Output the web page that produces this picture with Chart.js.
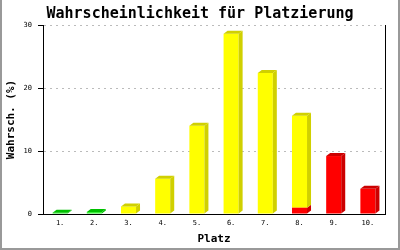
<!DOCTYPE html>
<html>
<head>
<meta charset="utf-8">
<script src="https://cdn.jsdelivr.net/npm/chart.js@4"></script>
<style>
  html, body { margin: 0; padding: 0; background: #fff; }
  #wrap { position: relative; width: 400px; height: 250px; }
  #frame { position: absolute; inset: 0; border: 2px solid #999; border-top: none; box-sizing: border-box; pointer-events: none; }
</style>
</head>
<body>
<div id="wrap">
  <canvas id="c" width="400" height="250"></canvas>
  <div id="frame"></div>
</div>
<script>
const categories   = ['1.', '2.', '3.', '4.', '5.', '6.', '7.', '8.', '9.', '10.'];
const greenValues  = [0.2, 0.3, 0, 0, 0, 0, 0, 0, 0, 0];
const redValues    = [0, 0, 0, 0, 0, 0, 0, 1.0, 9.2, 4.0];
const yellowValues = [0, 0, 1.2, 5.6, 14.0, 28.6, 22.4, 14.6, 0, 0];
const yTicks = [0, 10, 20, 30];

const MONO = "'DejaVu Sans Mono', monospace";
const DX = 4, DY = 3;

// fake 3D: right side + top face in a darker shade
const bar3d = {
  id: 'bar3d',
  afterDatasetsDraw(chart) {
    const ctx = chart.ctx;
    const sets = chart.data.datasets;
    ctx.save();
    sets.forEach((ds, di) => {
      const meta = chart.getDatasetMeta(di);
      meta.data.forEach((bar, i) => {
        const v = ds.data[i];
        if (!v) return;
        const { x, y, base, width } = bar.getProps(['x', 'y', 'base', 'width'], true);
        const l = x - width / 2, r = x + width / 2;
        const top = Math.min(y, base), bot = Math.max(y, base);
        ctx.fillStyle = ds.sideColor;
        ctx.beginPath();
        ctx.moveTo(r, top); ctx.lineTo(r + DX, top - DY);
        ctx.lineTo(r + DX, bot - DY); ctx.lineTo(r, bot);
        ctx.closePath(); ctx.fill();
        const covered = sets.some((o, oi) => oi > di && o.stack === ds.stack && o.data[i] > 0);
        if (!covered) {
          ctx.beginPath();
          ctx.moveTo(l, top); ctx.lineTo(l + DX, top - DY);
          ctx.lineTo(r + DX, top - DY); ctx.lineTo(r, top);
          ctx.closePath(); ctx.fill();
        }
      });
    });
    ctx.restore();
  }
};

new Chart(document.getElementById('c'), {
  type: 'bar',
  data: {
    labels: categories,
    datasets: [
      { label: 'grün', data: greenValues, backgroundColor: '#22ee22', sideColor: '#00c000', stack: 's' },
      { label: 'rot', data: redValues, backgroundColor: '#ff0000', sideColor: '#cc0000', stack: 's' },
      { label: 'gelb', data: yellowValues, backgroundColor: '#ffff00', sideColor: '#d0d000', stack: 's' },
    ],
  },
  options: {
    responsive: false,
    animation: false,
    devicePixelRatio: 1,
    layout: { padding: 0 },
    datasets: { bar: { categoryPercentage: 1, barPercentage: 0.44, borderWidth: 0 } },
    plugins: {
      legend: { display: false },
      tooltip: { enabled: false },
      title: {
        display: true,
        text: 'Wahrscheinlichkeit für Platzierung',
        color: '#000',
        font: { family: MONO, size: 15, weight: 'bold' },
        padding: { top: 5, bottom: 2 },
      },
    },
    scales: {
      x: {
        stacked: true,
        grid: { display: false, drawTicks: false },
        border: { display: true, color: '#000', width: 1 },
        ticks: { color: '#000', font: { family: MONO, size: 7 }, padding: 5, maxRotation: 0 },
        title: { display: true, text: 'Platz', color: '#000', font: { family: MONO, size: 11, weight: 'bold' }, padding: { top: 0, bottom: 4 } },
        afterFit: (s) => { s.height = 36; },
      },
      y: {
        stacked: true,
        min: 0,
        max: 30,
        afterBuildTicks: (s) => { s.ticks = yTicks.map(v => ({ value: v })); },
        grid: {
          color: '#bbb',
          tickColor: '#000',
          tickBorderDash: [],
          tickLength: 5,
        },
        border: { display: true, color: '#000', width: 1, dash: [2, 4] },
        ticks: { color: '#000', font: { family: MONO, size: 7 }, padding: 6 },
        title: { display: true, text: 'Wahrsch. (%)', color: '#000', font: { family: MONO, size: 11, weight: 'bold' }, padding: { top: 5, bottom: 0 } },
        afterFit: (s) => { s.width = 43; },
      },
      y2: {
        position: 'right',
        display: true,
        min: 0,
        max: 30,
        grid: { display: false, drawTicks: false },
        ticks: { display: false },
        border: { display: true, color: '#000', width: 1 },
        afterFit: (s) => { s.width = 15; },
      },
    },
  },
  plugins: [bar3d],
});
</script>
</body>
</html>
